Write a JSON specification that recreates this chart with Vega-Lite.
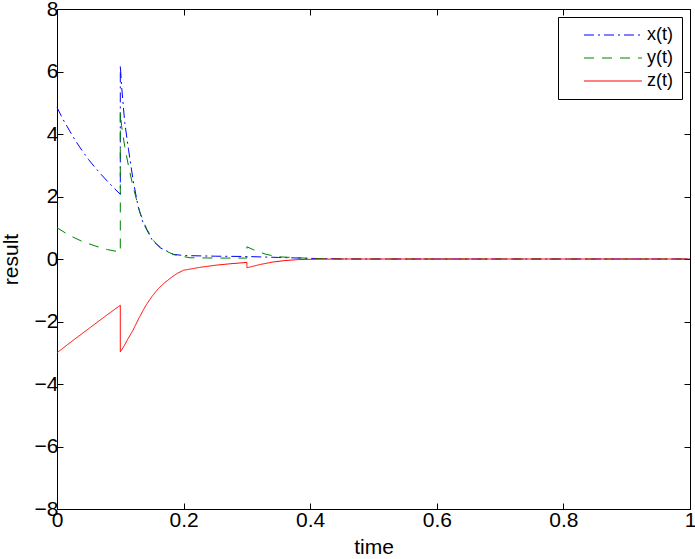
{
  "$schema": "https://vega.github.io/schema/vega-lite/v6.json",
  "autosize": "none",
  "width": 633,
  "height": 500,
  "padding": {"left": 57, "top": 9, "right": 5, "bottom": 50},
  "background": "white",
  "config": {
    "view": {"stroke": "black", "strokeWidth": 1},
    "font": "Liberation Sans",
    "axis": {
      "grid": false,
      "domainColor": "black",
      "tickColor": "black",
      "labelColor": "black",
      "titleColor": "black",
      "labelFont": "Liberation Sans",
      "titleFont": "Liberation Sans",
      "labelFontSize": 21,
      "titleFontSize": 21,
      "titleFontWeight": "normal",
      "tickSize": -6,
      "labelFlush": false,
      "labelOverlap": false
    }
  },
  "data": {
    "values": [
      {"s": "x(t)", "i": 1, "t": 0, "v": 4.85},
      {"s": "x(t)", "i": 2, "t": 0.01, "v": 4.45},
      {"s": "x(t)", "i": 3, "t": 0.02, "v": 4.1},
      {"s": "x(t)", "i": 4, "t": 0.03, "v": 3.76},
      {"s": "x(t)", "i": 5, "t": 0.04, "v": 3.46},
      {"s": "x(t)", "i": 6, "t": 0.05, "v": 3.18},
      {"s": "x(t)", "i": 7, "t": 0.06, "v": 2.93},
      {"s": "x(t)", "i": 8, "t": 0.07, "v": 2.7},
      {"s": "x(t)", "i": 9, "t": 0.08, "v": 2.48},
      {"s": "x(t)", "i": 10, "t": 0.09, "v": 2.27},
      {"s": "x(t)", "i": 11, "t": 0.1, "v": 2.07},
      {"s": "x(t)", "i": 12, "t": 0.1, "v": 6.2},
      {"s": "x(t)", "i": 13, "t": 0.102, "v": 5.54},
      {"s": "x(t)", "i": 14, "t": 0.107, "v": 4.37},
      {"s": "x(t)", "i": 15, "t": 0.113, "v": 3.5},
      {"s": "x(t)", "i": 16, "t": 0.12, "v": 2.55},
      {"s": "x(t)", "i": 17, "t": 0.128, "v": 1.69},
      {"s": "x(t)", "i": 18, "t": 0.136, "v": 1.16},
      {"s": "x(t)", "i": 19, "t": 0.15, "v": 0.62},
      {"s": "x(t)", "i": 20, "t": 0.163, "v": 0.36},
      {"s": "x(t)", "i": 21, "t": 0.184, "v": 0.15},
      {"s": "x(t)", "i": 22, "t": 0.2, "v": 0.11},
      {"s": "x(t)", "i": 23, "t": 0.25, "v": 0.09},
      {"s": "x(t)", "i": 24, "t": 0.3, "v": 0.08},
      {"s": "x(t)", "i": 25, "t": 0.35, "v": 0.05},
      {"s": "x(t)", "i": 26, "t": 0.4, "v": 0.02},
      {"s": "x(t)", "i": 27, "t": 0.45, "v": 0.005},
      {"s": "x(t)", "i": 28, "t": 0.5, "v": 0},
      {"s": "x(t)", "i": 29, "t": 1, "v": 0},
      {"s": "y(t)", "i": 1, "t": 0, "v": 1.0},
      {"s": "y(t)", "i": 2, "t": 0.02, "v": 0.75},
      {"s": "y(t)", "i": 3, "t": 0.04, "v": 0.56},
      {"s": "y(t)", "i": 4, "t": 0.06, "v": 0.42},
      {"s": "y(t)", "i": 5, "t": 0.08, "v": 0.3},
      {"s": "y(t)", "i": 6, "t": 0.1, "v": 0.22},
      {"s": "y(t)", "i": 7, "t": 0.1, "v": 4.7},
      {"s": "y(t)", "i": 8, "t": 0.102, "v": 4.26},
      {"s": "y(t)", "i": 9, "t": 0.107, "v": 3.6},
      {"s": "y(t)", "i": 10, "t": 0.113, "v": 2.97},
      {"s": "y(t)", "i": 11, "t": 0.12, "v": 2.33},
      {"s": "y(t)", "i": 12, "t": 0.131, "v": 1.49},
      {"s": "y(t)", "i": 13, "t": 0.142, "v": 0.95},
      {"s": "y(t)", "i": 14, "t": 0.155, "v": 0.52},
      {"s": "y(t)", "i": 15, "t": 0.168, "v": 0.3},
      {"s": "y(t)", "i": 16, "t": 0.184, "v": 0.14},
      {"s": "y(t)", "i": 17, "t": 0.21, "v": 0.04},
      {"s": "y(t)", "i": 18, "t": 0.25, "v": 0.03},
      {"s": "y(t)", "i": 19, "t": 0.3, "v": 0.03},
      {"s": "y(t)", "i": 20, "t": 0.3, "v": 0.39},
      {"s": "y(t)", "i": 21, "t": 0.31, "v": 0.3},
      {"s": "y(t)", "i": 22, "t": 0.33, "v": 0.15},
      {"s": "y(t)", "i": 23, "t": 0.35, "v": 0.07},
      {"s": "y(t)", "i": 24, "t": 0.4, "v": 0.02},
      {"s": "y(t)", "i": 25, "t": 0.45, "v": 0},
      {"s": "y(t)", "i": 26, "t": 1, "v": 0},
      {"s": "z(t)", "i": 1, "t": 0, "v": -3.0},
      {"s": "z(t)", "i": 2, "t": 0.025, "v": -2.61},
      {"s": "z(t)", "i": 3, "t": 0.05, "v": -2.23},
      {"s": "z(t)", "i": 4, "t": 0.075, "v": -1.85},
      {"s": "z(t)", "i": 5, "t": 0.1, "v": -1.48},
      {"s": "z(t)", "i": 6, "t": 0.1, "v": -2.97},
      {"s": "z(t)", "i": 7, "t": 0.105, "v": -2.82},
      {"s": "z(t)", "i": 8, "t": 0.11, "v": -2.63},
      {"s": "z(t)", "i": 9, "t": 0.12, "v": -2.28},
      {"s": "z(t)", "i": 10, "t": 0.13, "v": -1.87},
      {"s": "z(t)", "i": 11, "t": 0.14, "v": -1.5},
      {"s": "z(t)", "i": 12, "t": 0.15, "v": -1.2},
      {"s": "z(t)", "i": 13, "t": 0.16, "v": -0.95},
      {"s": "z(t)", "i": 14, "t": 0.17, "v": -0.76},
      {"s": "z(t)", "i": 15, "t": 0.18, "v": -0.6},
      {"s": "z(t)", "i": 16, "t": 0.19, "v": -0.46},
      {"s": "z(t)", "i": 17, "t": 0.2, "v": -0.36},
      {"s": "z(t)", "i": 18, "t": 0.225, "v": -0.27},
      {"s": "z(t)", "i": 19, "t": 0.25, "v": -0.2},
      {"s": "z(t)", "i": 20, "t": 0.275, "v": -0.15},
      {"s": "z(t)", "i": 21, "t": 0.3, "v": -0.11},
      {"s": "z(t)", "i": 22, "t": 0.3, "v": -0.28},
      {"s": "z(t)", "i": 23, "t": 0.32, "v": -0.18},
      {"s": "z(t)", "i": 24, "t": 0.34, "v": -0.1},
      {"s": "z(t)", "i": 25, "t": 0.36, "v": -0.05},
      {"s": "z(t)", "i": 26, "t": 0.38, "v": -0.02},
      {"s": "z(t)", "i": 27, "t": 0.4, "v": -0.01},
      {"s": "z(t)", "i": 28, "t": 0.45, "v": 0},
      {"s": "z(t)", "i": 29, "t": 1, "v": 0}
    ]
  },
  "layer": [
    {
      "mark": {"type": "line", "strokeWidth": 1, "interpolate": "linear"},
      "encoding": {
        "x": {
          "field": "t", "type": "quantitative",
          "scale": {"domain": [0, 1], "nice": false, "zero": false},
          "axis": {"title": "time", "values": [0, 0.2, 0.4, 0.6, 0.8, 1], "format": "~g", "labelPadding": 6, "titlePadding": 6}
        },
        "y": {
          "field": "v", "type": "quantitative",
          "scale": {"domain": [-8, 8], "nice": false},
          "axis": {"title": "result", "values": [-8, -6, -4, -2, 0, 2, 4, 6, 8], "labelPadding": 5, "titlePadding": 13}
        },
        "order": {"field": "i", "type": "quantitative"},
        "color": {
          "field": "s", "type": "nominal",
          "scale": {"domain": ["x(t)", "y(t)", "z(t)"], "range": ["#0000ff", "#008000", "#ff0000"]},
          "legend": {
            "title": null,
            "orient": "top-right",
            "offset": 8,
            "strokeColor": "black",
            "fillColor": "white",
            "padding": 9,
            "labelFont": "Liberation Sans",
            "labelFontSize": 18,
            "labelColor": "black",
            "labelOffset": 62,
            "symbolType": "stroke",
            "symbolSize": 100,
            "symbolStrokeWidth": 1,
            "symbolFillColor": "transparent",
            "rowPadding": 5,
            "columnPadding": 0,
            "encode": {
              "symbols": {"update": {"shape": {"value": "M-5.8,0L5.8,0"}, "x": {"value": 46}}}
            }
          }
        },
        "strokeDash": {
          "field": "s", "type": "nominal",
          "scale": {"domain": ["x(t)", "y(t)", "z(t)"], "range": [[10, 4, 2, 4], [10, 8], [1, 0]]},
          "legend": null
        }
      }
    },
    {
      "mark": {"type": "line", "opacity": 0},
      "encoding": {
        "x": {
          "field": "t", "type": "quantitative",
          "axis": {"orient": "top", "title": null, "labels": false, "values": [0, 0.2, 0.4, 0.6, 0.8, 1], "domain": false}
        },
        "y": {
          "field": "v", "type": "quantitative",
          "axis": {"orient": "right", "title": null, "labels": false, "values": [-8, -6, -4, -2, 0, 2, 4, 6, 8], "domain": false}
        },
        "detail": {"field": "s", "type": "nominal"}
      }
    }
  ],
  "resolve": {"axis": {"x": "independent", "y": "independent"}}
}
